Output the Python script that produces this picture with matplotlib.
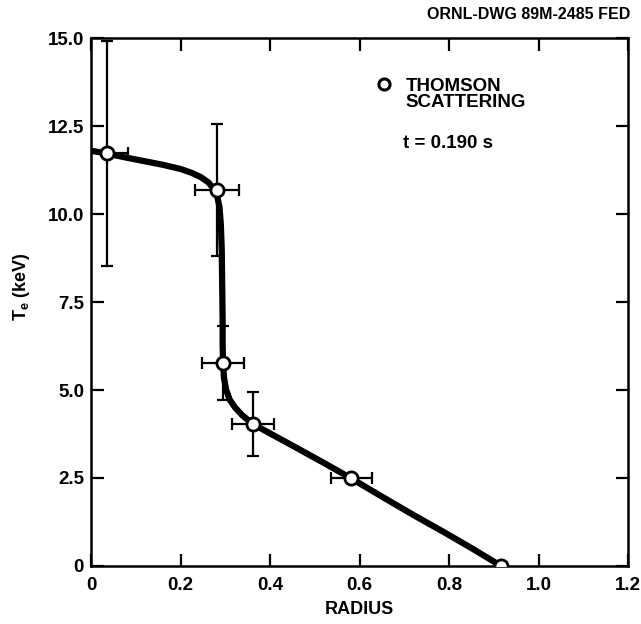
import numpy as np
from matplotlib import pyplot as plt

# =============================================================================
# data
# =============================================================================
# Thomson scattering points
r_pts = [0.035, 0.281, 0.294, 0.362, 0.581, 0.916]
te_pts = [11.72, 10.68, 5.76, 4.03, 2.49, 0.0]
r_err = [0.047, 0.049, 0.047, 0.047, 0.046, 0.0]
te_err = [3.2, 1.87, 1.05, 0.9, 0.0, 0.0]

# smooth fit drawn through the points
r_fit = [0.0, 0.035, 0.08, 0.12, 0.16, 0.2, 0.225, 0.245, 0.262, 0.274,
         0.282, 0.287, 0.29, 0.292, 0.293, 0.294, 0.294, 0.295, 0.297, 0.302,
         0.31, 0.322, 0.338, 0.362, 0.45, 0.52, 0.581, 0.65, 0.72, 0.79,
         0.855, 0.916]
te_fit = [11.8, 11.72, 11.6, 11.5, 11.4, 11.28, 11.17, 11.05, 10.9, 10.72,
          10.5, 10.2, 9.7, 9.0, 8.0, 7.0, 6.3, 5.76, 5.35, 5.0,
          4.72, 4.5, 4.28, 4.03, 3.42, 2.93, 2.49, 1.97, 1.45, 0.95,
          0.47, 0.0]

xticks = [0, 0.2, 0.4, 0.6, 0.8, 1.0, 1.2]
xtick_labels = ['0', '0.2', '0.4', '0.6', '0.8', '1.0', '1.2']
yticks = [0, 2.5, 5.0, 7.5, 10.0, 12.5, 15.0]
ytick_labels = ['0', '2.5', '5.0', '7.5', '10.0', '12.5', '15.0']

# =============================================================================
# plot
# =============================================================================
plt.rcParams['font.family'] = ['Liberation Sans', 'DejaVu Sans']
plt.rcParams['font.weight'] = 'bold'
plt.rcParams['mathtext.fontset'] = 'custom'
plt.rcParams['mathtext.rm'] = 'Liberation Sans:bold'
plt.rcParams['mathtext.bf'] = 'Liberation Sans:bold'

fig = plt.figure(figsize=(6.41, 6.24), dpi=100)
ax = fig.add_axes([0.142, 0.093, 0.838, 0.846])

ax.plot(r_fit, te_fit, color='black', lw=4.5, solid_capstyle='butt',
        solid_joinstyle='round', zorder=2)
ax.errorbar(r_pts, te_pts, xerr=r_err, yerr=te_err, fmt='none',
            ecolor='black', elinewidth=1.6, capsize=4.5, capthick=1.6, zorder=3)
ax.plot(r_pts, te_pts, 'o', ms=9.5, mfc='white', mec='black', mew=2, zorder=4)

ax.set_xlim(0, 1.2)
ax.set_ylim(0, 15)
ax.set_xticks(xticks)
ax.set_xticklabels(xtick_labels)
ax.set_yticks(yticks)
ax.set_yticklabels(ytick_labels)
ax.tick_params(direction='in', length=9, width=1.6, top=True, right=True,
               labelsize=13.5, pad=5)
ax.tick_params(axis='x', pad=8)
for s in ax.spines.values():
    s.set_linewidth(1.8)

ax.set_xlabel('RADIUS', fontsize=13, fontweight='bold', labelpad=5)
ax.set_ylabel(r'T$_{\mathbf{e}}$ (keV)', fontsize=13, fontweight='bold')
ax.yaxis.set_label_coords(-0.11, 0.53)

# legend / annotations
ax.plot([0.655], [13.69], 'o', ms=8, mfc='white', mec='black', mew=2.2)
ax.text(0.702, 13.50, 'THOMSON', fontsize=13.5, fontweight='bold',
        va='baseline', ha='left')
ax.text(0.702, 13.05, 'SCATTERING', fontsize=13.5, fontweight='bold',
        va='baseline', ha='left')
ax.text(0.697, 11.88, 't = 0.190 s', fontsize=13.5, fontweight='bold',
        va='baseline', ha='left')

fig.text(0.983, 0.976, 'ORNL-DWG 89M-2485 FED', fontsize=11.5, fontweight='bold',
         ha='right', va='center')

plt.savefig('out.png', dpi=100)
